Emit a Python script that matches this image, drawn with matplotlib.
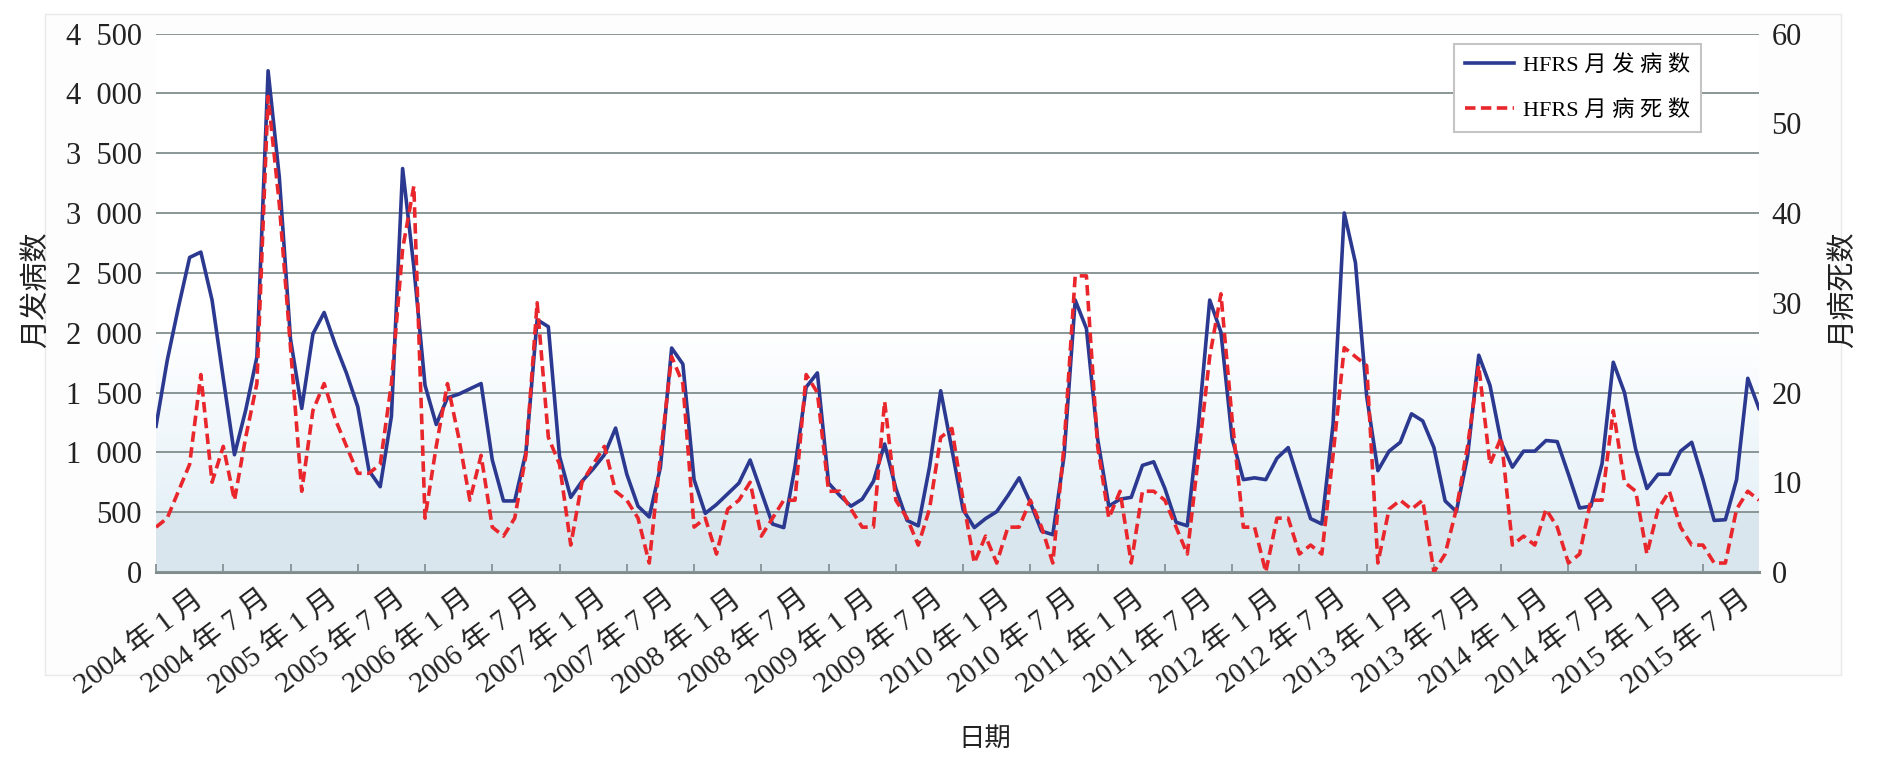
import numpy as np
import matplotlib
matplotlib.use("Agg")
import matplotlib.pyplot as plt
import matplotlib.ticker as ticker
from matplotlib.transforms import ScaledTranslation
from matplotlib.patches import Rectangle

# monthly HFRS data, 2004-01 .. 2015-12
years = list(range(2004, 2016))
cases = [1218, 1768, 2213, 2629, 2674, 2273, 1619, 980, 1352, 1797, 4189, 3300,
         1946, 1367, 1990, 2169, 1900, 1660, 1381, 847, 713, 1300, 3372, 2550,
         1560, 1233, 1456, 1486, 1530, 1575, 936, 594, 594, 1000, 2109, 2050,
         966, 624, 758, 862, 980, 1203, 817, 550, 460, 876, 1872, 1738,
         772, 490, 564, 654, 743, 936, 668, 401, 371, 876, 1545, 1664,
         743, 639, 550, 609, 758, 1070, 698, 431, 386, 876, 1515, 1025,
         520, 371, 446, 505, 639, 787, 579, 342, 312, 966, 2273, 2035,
         1114, 550, 609, 624, 891, 921, 698, 416, 386, 1233, 2273, 2005,
         1114, 772, 787, 772, 951, 1040, 743, 446, 401, 1233, 3001, 2585,
         1471, 847, 1010, 1084, 1322, 1263, 1040, 594, 505, 966, 1812, 1560,
         1084, 876, 1010, 1010, 1099, 1090, 817, 535, 550, 906, 1753, 1500,
         1025, 698, 817, 817, 1010, 1084, 772, 431, 437, 772, 1619, 1367]
deaths = [5, 6, 9, 12, 22, 10, 14, 8, 15, 21, 53, 41,
          25, 9, 18, 21, 17, 14, 11, 11, 12, 21, 36, 43,
          6, 14, 21, 15, 8, 13, 5, 4, 6, 13, 30, 15,
          12, 3, 10, 12, 14, 9, 8, 6, 1, 13, 24, 21,
          5, 6, 2, 7, 8, 10, 4, 6, 8, 8, 22, 20,
          9, 9, 7, 5, 5, 19, 8, 6, 3, 7, 15, 16,
          8, 1, 4, 1, 5, 5, 8, 5, 1, 14, 33, 33,
          14, 6, 9, 1, 9, 9, 8, 5, 2, 13, 24, 31,
          17, 5, 5, 0, 6, 6, 2, 3, 2, 13, 25, 24,
          23, 1, 7, 8, 7, 8, 0, 2, 7, 14, 23, 12,
          15, 3, 4, 3, 7, 5, 1, 2, 8, 8, 18, 10,
          9, 2, 7, 9, 5, 3, 3, 1, 1, 7, 9, 8]
tick_labels = [f"{y} 年 {m} 月" for y in years for m in (1, 7)]
legend_labels = ['HFRS 月 发 病 数', 'HFRS 月 病 死 数']

plt.rcParams['font.family'] = ['Liberation Serif', 'Noto Sans CJK SC']

W, H = 1884, 764
fig = plt.figure(figsize=(W / 100, H / 100), dpi=100)

# faint chart-area panel
fig.patches.append(Rectangle((45 / W, 1 - 675 / H), (1841 - 45) / W, (675 - 14) / H,
                             transform=fig.transFigure, fc='#fdfdfd', ec='#ece8e8',
                             lw=1, zorder=-5))

ax = fig.add_axes([156 / W, 1 - 572 / H, (1759 - 156) / W, (572 - 33.6) / H])
ax.patch.set_alpha(0)
months = np.arange(len(cases))

# background gradient of the plot area
vals = np.linspace(0, 4500, 901)
base = np.array([0.855, 0.905, 0.930])
lite = np.array([0.900, 0.945, 0.970])
col = np.ones((len(vals), 3))
for k, v in enumerate(vals):
    if v < 500:
        col[k] = base
    elif v < 2000:
        t = (v - 500) / 1500
        col[k] = lite * (1 - t) + t
ax.imshow(col[:, None, :], origin='lower', aspect='auto',
          extent=(0, len(cases) - 1, 0, 4500), zorder=0, interpolation='bilinear')

ax.yaxis.grid(True, color='#8a9696', lw=1.4, zorder=1)
ax.set_axisbelow(False)
ax.plot(months, cases, color='#2b3990', lw=2.6, zorder=3, label=legend_labels[0])
ax.set_xlim(0, len(cases) - 1)
ax.set_ylim(0, 4500)
ax.set_yticks(range(0, 4501, 500))
ax.yaxis.set_major_formatter(ticker.FuncFormatter(lambda v, p: f"{int(v):,}".replace(',', '  ')))
for s in ['left', 'right', 'top']:
    ax.spines[s].set_visible(False)
ax.spines['bottom'].set_color('#7f8c8c')
ax.spines['bottom'].set_linewidth(2.2)
ax.spines['bottom'].set_zorder(2)
ax.tick_params(axis='y', length=0, pad=10, labelsize=22, colors='#222222')
ax.set_xticks(months[::6])
ax.set_xticklabels(tick_labels)
ax.tick_params(axis='x', direction='in', length=6, width=1.2, color='#7f8c8c',
               labelsize=21, pad=0, labelcolor='#222222')
offset = ScaledTranslation(0.44, -0.24, fig.dpi_scale_trans)
for lab in ax.get_xticklabels():
    lab.set_rotation(37)
    lab.set_ha('right')
    lab.set_va('center')
    lab.set_rotation_mode('anchor')
    lab.set_transform(lab.get_transform() + offset)

ax2 = ax.twinx()
ax2.plot(months, deaths, color='#e8262b', lw=2.6, ls='--', dashes=(2.9, 1.5),
         zorder=4, label=legend_labels[1])
ax2.set_ylim(0, 60)
ax2.set_yticks(range(0, 61, 10))
for s in ax2.spines.values():
    s.set_visible(False)
ax2.tick_params(axis='y', length=0, pad=9, labelsize=22, colors='#222222')

h1, l1 = ax.get_legend_handles_labels()
h2, l2 = ax2.get_legend_handles_labels()
leg = ax2.legend(h1 + h2, l1 + l2, loc='upper right',
                 bbox_to_anchor=(1701 / W, 1 - 44 / H), bbox_transform=fig.transFigure,
                 borderaxespad=0, fontsize=16, frameon=True, fancybox=False,
                 edgecolor='#c4c4c4', framealpha=1, borderpad=0.5,
                 handlelength=2.2, handletextpad=0.4, labelspacing=1.1)
leg.get_frame().set_linewidth(1.5)

fig.text(37 / W, 1 - 290 / H, '月发病数', rotation=90, ha='center', va='center',
         fontsize=21, color='#222222')
fig.text(1844 / W, 1 - 290 / H, '月病死数', rotation=90, ha='center', va='center',
         fontsize=21, color='#222222')
fig.text(985 / W, 1 - 739 / H, '日期', ha='center', va='center',
         fontsize=19, color='#222222')

fig.savefig('out.png', dpi=100)
